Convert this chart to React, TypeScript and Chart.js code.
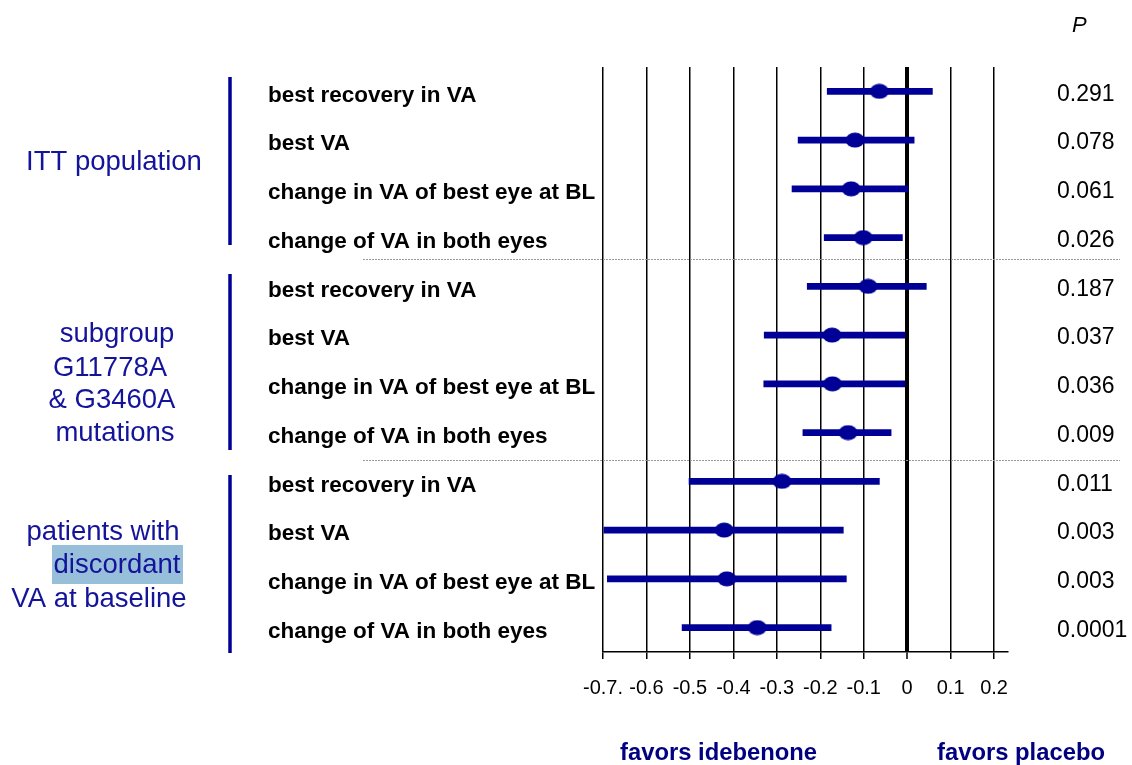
import React, { useEffect, useRef } from 'react';
import { Chart, registerables } from 'chart.js';

Chart.register(...registerables);

// ---------- data ----------
const categories = [
  'best recovery in VA',
  'best VA',
  'change in VA of best eye at BL',
  'change of VA in both eyes',
  'best recovery in VA',
  'best VA',
  'change in VA of best eye at BL',
  'change of VA in both eyes',
  'best recovery in VA',
  'best VA',
  'change in VA of best eye at BL',
  'change of VA in both eyes',
];

const estimates = [-0.064, -0.12, -0.129, -0.101, -0.09, -0.173, -0.172, -0.136, -0.288, -0.421, -0.415, -0.345];
const lowerCI = [-0.184, -0.251, -0.265, -0.191, -0.23, -0.329, -0.33, -0.24, -0.502, -0.698, -0.69, -0.518];
const upperCI = [0.058, 0.016, 0.002, -0.011, 0.044, -0.005, -0.005, -0.037, -0.064, -0.147, -0.14, -0.175];

const pValues = ['0.291', '0.078', '0.061', '0.026', '0.187', '0.037', '0.036', '0.009', '0.011', '0.003', '0.003', '0.0001'];

const xTicks = [-0.7, -0.6, -0.5, -0.4, -0.3, -0.2, -0.1, 0, 0.1, 0.2];
const xTickLabels = ['-0.7.', '-0.6', '-0.5', '-0.4', '-0.3', '-0.2', '-0.1', '0', '0.1', '0.2'];

const groupLines = [
  ['ITT population'],
  ['subgroup', 'G11778A', '& G3460A', 'mutations'],
  ['patients with', 'discordant', 'VA at baseline'],
];
const pHeader = 'P';
const favorsLeft = 'favors idebenone';
const favorsRight = 'favors placebo';

// ---------- styles ----------
const FONT = '"Liberation Sans", Arial, sans-serif';
const BAR_BLUE = '#000096';
const TEXT_BLUE = '#14149b';
const NAVY = '#000080';

export default function App() {
  const ref = useRef<HTMLCanvasElement>(null);

  useEffect(() => {
    document.body.style.margin = '0';
    const canvas = ref.current!;

    const dot = document.createElement('canvas');
    dot.width = 20;
    dot.height = 16;
    const dctx = dot.getContext('2d')!;
    dctx.fillStyle = BAR_BLUE;
    dctx.beginPath();
    dctx.ellipse(10, 8, 9.5, 7.5, 0, 0, Math.PI * 2);
    dctx.fill();

    const extras = {
      id: 'extras',
      afterDraw(chart: any) {
        const ctx = chart.ctx as CanvasRenderingContext2D;
        ctx.save();

        // dotted separators
        ctx.strokeStyle = '#9a9a9a';
        ctx.lineWidth = 1;
        ctx.setLineDash([2, 1]);
        [259.5, 460.5].forEach((y) => {
          ctx.beginPath();
          ctx.moveTo(363, y);
          ctx.lineTo(1120, y);
          ctx.stroke();
        });
        ctx.setLineDash([]);

        // group vertical bars
        ctx.strokeStyle = BAR_BLUE;
        ctx.lineWidth = 3.5;
        [[77, 245], [274, 450], [475, 653]].forEach(([a, b]) => {
          ctx.beginPath();
          ctx.moveTo(230, a);
          ctx.lineTo(230, b);
          ctx.stroke();
        });

        // highlight box behind "discordant"
        ctx.fillStyle = '#97bfd9';
        ctx.fillRect(52, 545, 131, 39);

        // group labels
        ctx.fillStyle = TEXT_BLUE;
        ctx.font = `27.5px ${FONT}`;
        ctx.textAlign = 'center';
        ctx.textBaseline = 'alphabetic';
        const pos = [
          [[114, 170]],
          [[117, 342], [110, 376], [112, 408], [115, 441]],
          [[103, 540], [117, 573], [99, 607]],
        ];
        groupLines.forEach((lines, g) => {
          lines.forEach((t, i) => {
            ctx.fillText(t, pos[g][i][0], pos[g][i][1]);
          });
        });

        // P header
        ctx.fillStyle = '#000';
        ctx.font = `italic 22px ${FONT}`;
        ctx.textAlign = 'left';
        ctx.fillText(pHeader, 1072, 32);

        // favors labels
        ctx.fillStyle = NAVY;
        ctx.font = `bold 23.8px ${FONT}`;
        ctx.fillText(favorsLeft, 620, 760);
        ctx.fillText(favorsRight, 937, 760);

        ctx.restore();
      },
    };

    const chart = new Chart(canvas, {
      type: 'bar',
      data: {
        labels: categories,
        datasets: [
          {
            type: 'line',
            data: estimates,
            showLine: false,
            pointStyle: dot as any,
            pointRadius: 8,
            yAxisID: 'y',
            xAxisID: 'x',
            order: 0,
          } as any,
          {
            type: 'bar',
            data: lowerCI.map((l, i) => [l, upperCI[i]]),
            backgroundColor: BAR_BLUE,
            barThickness: 6,
            yAxisID: 'y',
            xAxisID: 'x',
            order: 1,
          } as any,
        ],
      },
      options: {
        indexAxis: 'y',
        animation: false,
        responsive: false,
        maintainAspectRatio: false,
        layout: { padding: { left: 268, top: 67, right: 0, bottom: 0 } },
        plugins: { legend: { display: false }, tooltip: { enabled: false } },
        scales: {
          x: {
            type: 'linear',
            position: 'bottom',
            min: -0.7,
            max: 0.232,
            afterBuildTicks: (s: any) => {
              s.ticks = xTicks.map((v) => ({ value: v }));
            },
            afterFit: (s: any) => {
              s.height = 113;
            },
            ticks: {
              callback: (_v: any, i: number) => xTickLabels[i],
              color: '#000',
              font: { family: FONT, size: 20 },
              padding: 17,
              autoSkip: false,
              maxRotation: 0,
            },
            grid: {
              color: '#000',
              lineWidth: (c: any) => (c.tick && c.tick.value === 0 ? 4 : 1.5),
              tickLength: 7,
              tickWidth: 1.5,
              drawTicks: true,
            },
            border: { display: true, color: '#000', width: 1.5 },
          },
          y: {
            type: 'category',
            axis: 'y',
            position: 'left',
            offset: true,
            afterFit: (s: any) => {
              s.width = 335;
            },
            ticks: {
              crossAlign: 'far',
              color: '#000',
              font: { family: FONT, size: 22.5, weight: 'bold' },
              padding: 0,
              labelOffset: 4,
              autoSkip: false,
            },
            grid: { display: false, drawTicks: false },
            border: { display: false },
          },
          y2: {
            type: 'category',
            axis: 'y',
            labels: pValues,
            position: 'right',
            offset: true,
            afterFit: (s: any) => {
              s.width = 124;
            },
            ticks: {
              crossAlign: 'near',
              color: '#000',
              font: { family: FONT, size: 23 },
              padding: 49,
              labelOffset: 3,
              autoSkip: false,
            },
            grid: { display: false, drawTicks: false },
            border: { display: false },
          },
        },
      } as any,
      plugins: [extras],
    });

    return () => chart.destroy();
  }, []);

  return <canvas ref={ref} width={1132} height={765} style={{ display: 'block' }} />;
}
